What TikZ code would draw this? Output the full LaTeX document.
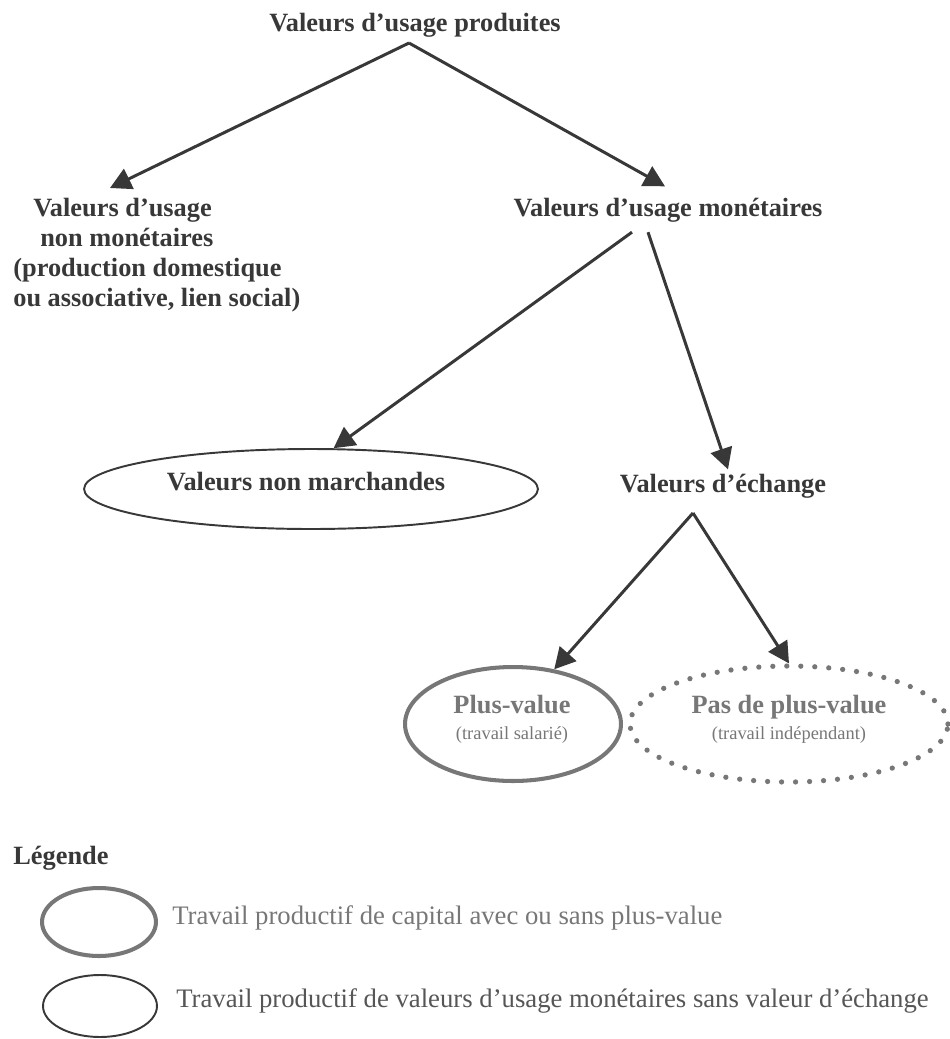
\documentclass[tikz,border=0pt]{standalone}
\usepackage{fontspec}
\setmainfont{Liberation Serif}
\usepackage{xcolor}
\usetikzlibrary{arrows.meta,calc,positioning,shapes.geometric}
\definecolor{ink}{HTML}{383838}
\definecolor{greyline}{HTML}{777777}
\tikzset{
	heading/.style={font=\fontsize{15}{17}\selectfont\bfseries, text=ink, inner sep=0pt},
	flow/.style={line width=1.7pt, draw=ink, -{Triangle[length=0.42cm,width=0.44cm]}},
	thickoval/.style={ellipse, draw=greyline, line width=2.3pt, inner sep=0pt},
	dotoval/.style={ellipse, draw=greyline, line width=3pt, dash pattern=on 0pt off 0.28cm, line cap=round, inner sep=0pt},
	thinoval/.style={ellipse, draw=ink, line width=1.1pt, inner sep=0pt},
	keytext/.style={font=\fontsize{15.2}{17}\selectfont, inner sep=0pt}
}

\begin{document}
\begin{tikzpicture}[x=0.02cm, y=-0.02cm]
        \useasboundingbox (0,0) rectangle (950,1039);
        % top of the tree
        \node[heading, anchor=base] (prod) at (415,31) {Valeurs d’usage produites};
        \coordinate (split1) at (409,43);
        \node[heading, align=left, anchor=north west] (nonmon) at (13,198)
            {\hspace*{0.4cm}Valeurs d’usage\\ \hspace*{0.54cm}non monétaires\\ (production domestique\\ ou associative, lien social)};
        \node[heading, anchor=base] (mon) at (668,216) {Valeurs d’usage monétaires};
        \draw[flow] (split1) -- ($(nonmon.north west)+(97,-10)$);
        \draw[flow] (split1) -- ($(mon.north)+(-3,-11)$);

        % monetary values
        \node[thinoval, minimum width=9.08cm, minimum height=1.6cm] (nm) at (311,489) {};
        \node[heading] (nmtxt) at (306,482) {Valeurs non marchandes};
        \node[heading, anchor=base] (ech) at (723,492) {Valeurs d’échange};
        \draw[flow] ($(mon.south)+(-36,10)$) -- (nm.61);
        \draw[flow] ($(mon.south)+(-20,10)$) -- ($(ech.north)+(5,-4)$);

        % exchange values
        \coordinate (split2) at (693,513);
        \node[thickoval, minimum width=4.32cm, minimum height=2.28cm] (pv) at (513,724) {};
        \node[dotoval, minimum width=6.36cm, minimum height=2.32cm] (ppv) at (789,724) {};
        \node[heading, text=greyline, align=center] (pvtxt) at (512,719)
            {Plus-value\\[-2pt] {\fontsize{10.5}{12}\selectfont\mdseries (travail salarié)}};
        \node[heading, text=greyline, align=center] (ppvtxt) at (789,719)
            {Pas de plus-value\\[-2pt] {\fontsize{10.5}{12}\selectfont\mdseries (travail indépendant)}};
        \draw[flow] (split2) -- (pv.53);
        \draw[flow] (split2) -- (ppv.north);

        % legend
        \node[heading, anchor=base west] (leg) at (13,864) {Légende};
        \node[thickoval, minimum width=2.28cm, minimum height=1.36cm] (key1) at (99,922) {};
        \node[keytext, text=greyline, right=0.28cm of key1, yshift=0.08cm] (key1txt) {Travail productif de capital avec ou sans plus-value};
        \node[thinoval, minimum width=2.28cm, minimum height=1.24cm] (key2) at (100,1006) {};
        \node[keytext, text=ink!85, right=0.36cm of key2, yshift=0.1cm] (key2txt) {Travail productif de valeurs d’usage monétaires sans valeur d’échange};
    \end{tikzpicture}
\end{document}
